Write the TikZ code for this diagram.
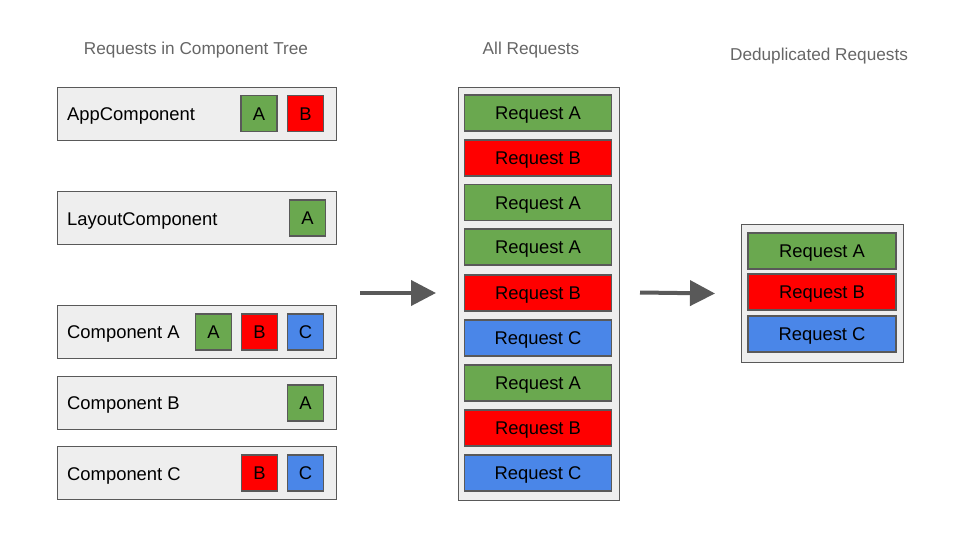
\documentclass[tikz,border=0pt]{standalone}
\usepackage{fontspec}
\setmainfont{Liberation Sans}
\usetikzlibrary{arrows.meta}

\definecolor{reqA}{HTML}{6AA84F}
\definecolor{reqB}{HTML}{FF0000}
\definecolor{reqC}{HTML}{4A86E8}
\definecolor{edgegray}{HTML}{595959}
\definecolor{panelgray}{HTML}{EEEEEE}
\definecolor{titlegray}{HTML}{666666}

\begin{document}
\begin{tikzpicture}[
    x=1pt, y=-1pt,
    font=\fontsize{18.4}{22}\selectfont,
    caps/.style={text height=13.2pt, text depth=0pt},
    title/.style={text=titlegray, font=\fontsize{17.2}{20}\selectfont, text height=12.3pt, text depth=0pt},
    lbl/.style={caps, anchor=west, inner sep=0pt},
    panel/.style={draw=edgegray, fill=panelgray, line width=1.2pt, anchor=north west, inner sep=0pt},
    comp/.style={panel, minimum width=279pt, minimum height=53pt},
    tag/.style={caps, draw=edgegray, line width=1.2pt, minimum size=36pt, inner sep=0pt},
    req/.style={caps, draw=edgegray, line width=1.2pt, minimum width=147pt, minimum height=36pt, inner sep=0pt},
    flow/.style={draw=edgegray, line width=4pt, -{Triangle[length=25pt, width=25pt]}}
]
    \useasboundingbox (0,0) rectangle (960,540);

    % Titles
    \node[title] (t1) at (196,48) {Requests in Component Tree};
    \node[title] (t2) at (531,48) {All Requests};
    \node[title] (t3) at (819,54) {Deduplicated Requests};

    % Component tree
    \node[comp] (app) at (57,87) {};
    \node[lbl] (applbl) at (67,114) {AppComponent};
    \node[tag, fill=reqA] (appA) at (259,113.5) {A};
    \node[tag, fill=reqB] (appB) at (305.5,113.5) {B};

    \node[comp] (layout) at (57,191) {};
    \node[lbl] (layoutlbl) at (67,218.5) {LayoutComponent};
    \node[tag, fill=reqA] (layoutA) at (307.5,218) {A};

    \node[comp] (compa) at (57,305) {};
    \node[lbl] (compalbl) at (67,332) {Component A};
    \node[tag, fill=reqA] (compaA) at (213.5,332) {A};
    \node[tag, fill=reqB] (compaB) at (259.5,332) {B};
    \node[tag, fill=reqC] (compaC) at (305.5,332) {C};

    \node[comp] (compb) at (57,376) {};
    \node[lbl] (compblbl) at (67,403) {Component B};
    \node[tag, fill=reqA] (compbA) at (305.5,403) {A};

    \node[comp] (compc) at (57,446) {};
    \node[lbl] (compclbl) at (67,473.5) {Component C};
    \node[tag, fill=reqB] (compcB) at (259.5,473) {B};
    \node[tag, fill=reqC] (compcC) at (305.5,473) {C};

    % All requests
    \node[panel, minimum width=161pt, minimum height=413pt] (all) at (458,87) {};
    \foreach \c/\t/\y [count=\i] in {reqA/A/113, reqB/B/158, reqA/A/202.5, reqA/A/247, reqB/B/293,
                                      reqC/C/338, reqA/A/383, reqB/B/428, reqC/C/473}
        \node[req, fill=\c] (all\i) at (538,\y) {Request \t};

    % Deduplicated requests
    \node[panel, minimum width=162pt, minimum height=138pt] (dedup) at (741,224) {};
    \node[req, minimum width=148pt, fill=reqA] (dedupA) at (822,251) {Request A};
    \node[req, minimum width=148pt, fill=reqB] (dedupB) at (822,292) {Request B};
    \node[req, minimum width=148pt, fill=reqC] (dedupC) at (822,334) {Request C};

    % Arrows
    \coordinate (collect0) at (360,293);
    \coordinate (collect1) at (436,293);
    \draw[flow] (collect0) -- (collect1);
    \coordinate (merge0) at (640,292.5);
    \coordinate (merge1) at (715,293.5);
    \draw[flow] (merge0) -- (merge1);

\end{tikzpicture}
\end{document}
